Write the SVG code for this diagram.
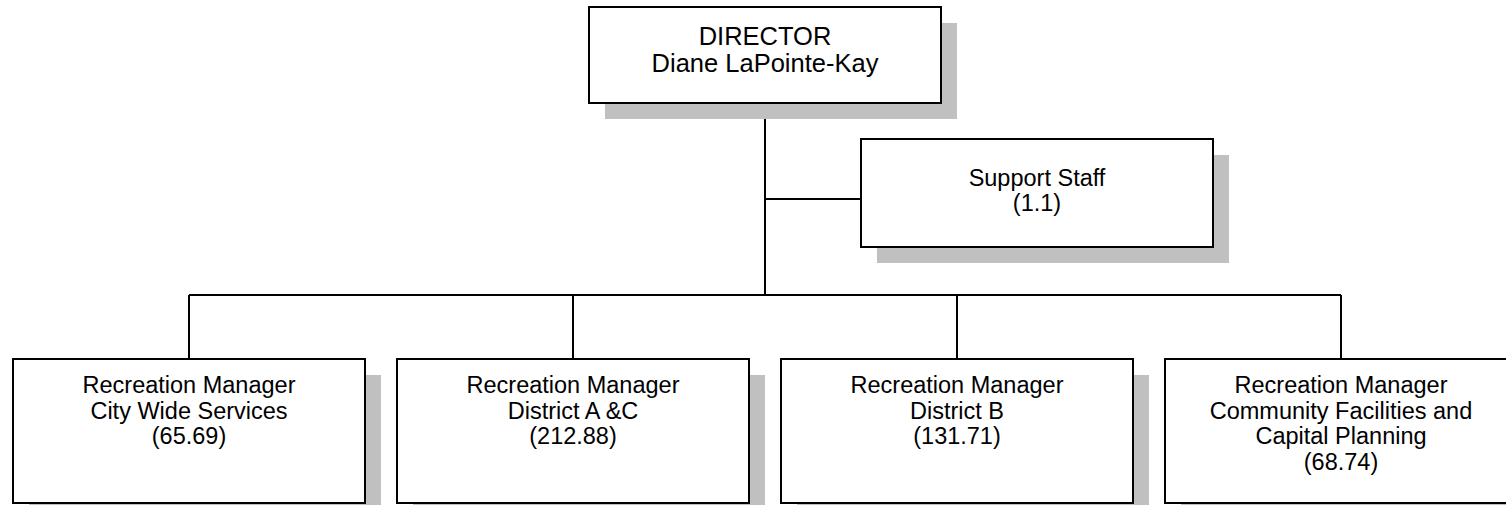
<svg xmlns="http://www.w3.org/2000/svg" width="1506" height="505" viewBox="0 0 1506 505">
  <style>
    .shadow { fill: #c0c0c0; stroke: none; }
    .box { fill: #ffffff; stroke: #000000; stroke-width: 2; }
    .wire { stroke: #000000; stroke-width: 2; fill: none; }
    text { font-family: "Liberation Sans", Arial, sans-serif; fill: #000000; text-anchor: middle; }
    .t { font-size: 23.5px; }
    .th { font-size: 25.5px; }
  </style>
  <rect width="1506" height="505" fill="#ffffff"/>

  <g id="connectors">
    <path class="wire" d="M765 103 V295"/>
    <path class="wire" d="M765 199 H861"/>
    <path class="wire" d="M189 295 H1341"/>
    <path class="wire" d="M189 295 V359 M573 295 V359 M957 295 V359 M1341 295 V359"/>
  </g>

  <g id="director">
    <rect class="shadow" x="605" y="23" width="352" height="96"/>
    <rect class="box" x="589" y="7" width="352" height="96"/>
    <text class="th" x="765" y="45">DIRECTOR</text>
    <text class="th" x="765" y="72">Diane LaPointe-Kay</text>
  </g>

  <g id="support-staff">
    <rect class="shadow" x="877" y="155" width="352" height="108"/>
    <rect class="box" x="861" y="139" width="352" height="108"/>
    <text class="t" x="1037" y="186">Support Staff</text>
    <text class="t" x="1037" y="211">(1.1)</text>
  </g>

  <g id="manager-city-wide">
    <rect class="shadow" x="29" y="375" width="352" height="144"/>
    <rect class="box" x="13" y="359" width="352" height="144"/>
    <text class="t" x="189" y="393">Recreation Manager</text>
    <text class="t" x="189" y="418.5">City Wide Services</text>
    <text class="t" x="189" y="444">(65.69)</text>
  </g>

  <g id="manager-district-ac">
    <rect class="shadow" x="413" y="375" width="352" height="144"/>
    <rect class="box" x="397" y="359" width="352" height="144"/>
    <text class="t" x="573" y="393">Recreation Manager</text>
    <text class="t" x="573" y="418.5">District A &amp;C</text>
    <text class="t" x="573" y="444">(212.88)</text>
  </g>

  <g id="manager-district-b">
    <rect class="shadow" x="797" y="375" width="352" height="144"/>
    <rect class="box" x="781" y="359" width="352" height="144"/>
    <text class="t" x="957" y="393">Recreation Manager</text>
    <text class="t" x="957" y="418.5">District B</text>
    <text class="t" x="957" y="444">(131.71)</text>
  </g>

  <g id="manager-community-facilities">
    <rect class="shadow" x="1181" y="375" width="352" height="144"/>
    <rect class="box" x="1165" y="359" width="352" height="144"/>
    <text class="t" x="1341" y="393">Recreation Manager</text>
    <text class="t" x="1341" y="418.5">Community Facilities and</text>
    <text class="t" x="1341" y="444">Capital Planning</text>
    <text class="t" x="1341" y="469.5">(68.74)</text>
  </g>
</svg>
